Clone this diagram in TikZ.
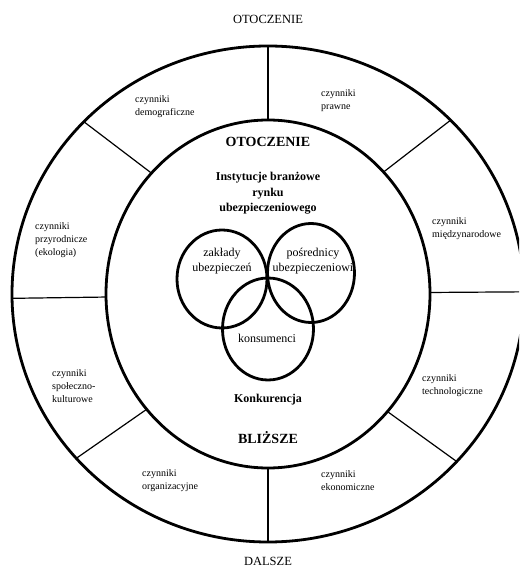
\documentclass[tikz,border=0pt]{standalone}
\usepackage{fontspec}
\setmainfont{Liberation Serif}
\begin{document}
\begin{tikzpicture}[x=1pt,y=1pt,
  czynnik/.style={right,align=left,inner sep=0pt,font=\fontsize{10}{13}\selectfont},
  krag/.style={line width=2.8},
  etykieta/.style={align=center,inner sep=0pt,font=\fontsize{12}{15}\selectfont},
  tytul/.style={align=center,inner sep=0pt,font=\bfseries\fontsize{12}{15.5}\selectfont}]

% Ramka
\useasboundingbox (-268,-273) rectangle (251,294);
\clip (-268,-273) rectangle (251,294);

% Otoczenie dalsze
\draw[krag] (0,0) ellipse [x radius=256, y radius=248];

% Otoczenie blizsze
\draw[krag] (0,0) ellipse [x radius=162, y radius=174];

% Podzial na czynniki
\foreach \a in {90,44.5,0.5,317.5,270,221.5,181,136}
{
\draw[line width=1.2] (\a:162 and 174) -- (\a:256 and 248);
}

% Rynek
\draw[krag] (-46,15) ellipse [x radius=45, y radius=49];
\draw[krag] (43,21) ellipse [x radius=43.5, y radius=49.5];
\draw[krag] (0,-35) ellipse [x radius=45.5, y radius=51];

% Napisy
\node[anchor=base,inner sep=0pt,font=\fontsize{12.5}{14}\selectfont] (otdalsze) at (0,270.7) {OTOCZENIE};
\node[anchor=base,inner sep=0pt,font=\fontsize{12.5}{14}\selectfont] (dalsze) at (0,-271) {DALSZE};
\node[tytul,font=\bfseries\fontsize{14}{16}\selectfont] (otblizsze) at (0,152) {OTOCZENIE};
\node[tytul] (instytucje) at (0,100.5) {Instytucje branżowe\\rynku\\ubezpieczeniowego};
\node[etykieta] (zaklady) at (-46,32.5) {zakłady\\ubezpieczeń};
\node[etykieta] (posrednicy) at (45,32.5) {pośrednicy\\ubezpieczeniowi};
\node[etykieta] (konsumenci) at (-1,-44) {konsumenci};
\node[tytul] (konkurencja) at (0,-106) {Konkurencja};
\node[tytul,font=\bfseries\fontsize{14}{16}\selectfont] (blizsze) at (0,-144) {BLIŻSZE};

% Czynniki
\node[czynnik] (demograficzne) at (-133,187) {czynniki\\demograficzne};
\node[czynnik] (prawne) at (53,193.5) {czynniki\\prawne};
\node[czynnik] (przyrodnicze) at (-233,54) {czynniki\\przyrodnicze\\(ekologia)};
\node[czynnik] (miedzynarodowe) at (164,65.5) {czynniki\\międzynarodowe};
\node[czynnik] (spoleczne) at (-216,-92) {czynniki\\społeczno-\\kulturowe};
\node[czynnik] (technologiczne) at (154,-92) {czynniki\\technologiczne};
\node[czynnik] (organizacyjne) at (-126,-187) {czynniki\\organizacyjne};
\node[czynnik] (ekonomiczne) at (53,-187) {czynniki\\ekonomiczne};

\end{tikzpicture}
\end{document}
